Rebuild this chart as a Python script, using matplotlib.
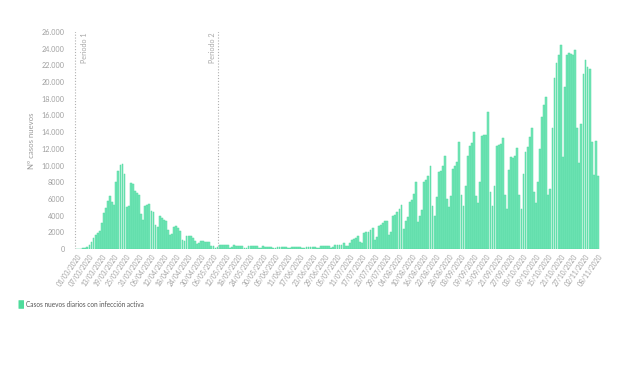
import matplotlib
matplotlib.use("Agg")
import matplotlib.pyplot as plt
import matplotlib.patches as mpatches
import pandas as pd
import numpy as np

plt.rcParams['font.family'] = ['Lato', 'DejaVu Sans']

start_date = "2020-03-01"
tick_step = 6

# daily new cases (01/03/2020 - 08/11/2020)
casos = [
    20, 30, 50, 90, 150, 250, 450, 800, 1300, 1700,
    1900, 2100, 3100, 4300, 4900, 5800, 6400, 5600, 5300, 8000,
    9300, 10100, 10200, 9000, 5000, 5100, 7900, 7800, 6900, 6700,
    6500, 4200, 3500, 5200, 5300, 5400, 4600, 4400, 2900, 2600,
    3900, 3700, 3500, 3300, 2300, 1700, 1800, 2600, 2700, 2500,
    2200, 1100, 1000, 1500, 1600, 1500, 1300, 900, 600, 700,
    900, 900, 850, 800, 800, 400, 350, 100, 250, 500,
    480, 450, 420, 450, 100, 200, 420, 400, 380, 400,
    380, 90, 150, 380, 360, 340, 330, 320, 80, 130,
    300, 290, 280, 270, 260, 70, 120, 260, 250, 240,
    250, 230, 60, 100, 220, 230, 210, 220, 200, 60,
    100, 240, 250, 260, 250, 270, 80, 120, 300, 320,
    330, 340, 400, 150, 200, 420, 450, 480, 520, 760,
    300, 350, 700, 1100, 1200, 1350, 1500, 850, 700, 1900,
    2000, 2050, 2300, 2500, 1100, 1400, 2700, 2900, 3100, 3400,
    3300, 1700, 2000, 4000, 4100, 4400, 4800, 5300, 2400, 3400,
    3800, 5600, 5900, 6600, 8000, 3200, 4000, 4700, 8000, 8300,
    8800, 10000, 5200, 4000, 6200, 9200, 9400, 10000, 11200, 6000,
    5000, 6400, 9600, 10000, 10400, 12800, 6500, 5200, 7500, 11200,
    12300, 12700, 14000, 6400, 5500, 8000, 13500, 13600, 13700, 16400,
    6800, 5200, 7500, 12400, 12500, 12600, 13300, 6500, 4800, 9500,
    11000, 10900, 11200, 12100, 6500, 4800, 9000, 11600, 12200, 13400,
    14500, 6800, 5500, 8000, 12000, 15800, 17200, 18200, 6500, 7200,
    14500, 20500, 22300, 23200, 24400, 11000, 19400, 23300, 23500, 23400,
    23200, 23800, 14500, 10300, 15000, 21000, 22600, 21800, 21600, 12800,
    8900, 13000, 8800,
]

y_ticks = [0, 2000, 4000, 6000, 8000, 10000, 12000, 14000, 16000, 18000,
           20000, 22000, 24000, 26000]
periodos = ["Periodo 1", "Periodo 2"]
periodo_pos = [-0.8, 68.3]

fechas = pd.date_range(start_date, periods=len(casos), freq="D")
x = np.arange(len(casos))

W, H = 620, 368
fig = plt.figure(figsize=(W / 100, H / 100), dpi=100)
ax = fig.add_axes([73 / W, (H - 249) / H, (601 - 73) / W, 217 / H])

ax.bar(x, casos, width=0.88, color="#72e6b6", edgecolor="#55d9a2",
       linewidth=0.35, zorder=2)

ax.set_xlim(-1.94, 253.5)
ax.set_ylim(0, 26000)

for s in ax.spines.values():
    s.set_visible(False)

def fmt(v):
    if v >= 10000:
        return f"{v:,}".replace(",", ".")
    return str(v)

ax.set_yticks(y_ticks)
ax.set_yticklabels([fmt(v) for v in y_ticks], fontsize=5.2, color="#a0a0a0")
ax.tick_params(axis="y", length=0, pad=6)

tick_idx = list(range(0, len(casos), tick_step))
ax.set_xticks(tick_idx)
ax.set_xticklabels([fechas[i].strftime("%d/%m/%Y") for i in tick_idx],
                   rotation=55, ha="right", va="top", rotation_mode="anchor",
                   fontsize=4.9, color="#a0a0a0")
ax.tick_params(axis="x", length=0, pad=2.5)

ax.set_ylabel("Nº casos nuevos", fontsize=5.6, color="#9a9a9a", labelpad=5)

for name, pos, side in zip(periodos, periodo_pos, ["right", "left"]):
    ax.vlines(pos, 0, 26150, colors="#b0b0b0", linestyles=(0, (1, 1.6)),
              linewidth=0.8, zorder=3)
    off = 4.2 if side == "right" else -2.7
    ax.text(pos + off, 25900, name, rotation=90, ha="center", va="top",
            fontsize=5.2, color="#a8a8a8")

# legend
fig.patches.append(mpatches.FancyBboxPatch((19 / W, (H - 308.5) / H), 4.5 / W, 8 / H,
                   boxstyle="round,pad=0.0008", transform=fig.transFigure,
                   facecolor="#4fdc9c", edgecolor="none"))
fig.text(26.5 / W, (H - 304.5) / H, "Casos nuevos diarios con infección activa",
         fontsize=4.7, color="#555555", va="center", ha="left")

fig.savefig("out.png", dpi=100, facecolor="white")
